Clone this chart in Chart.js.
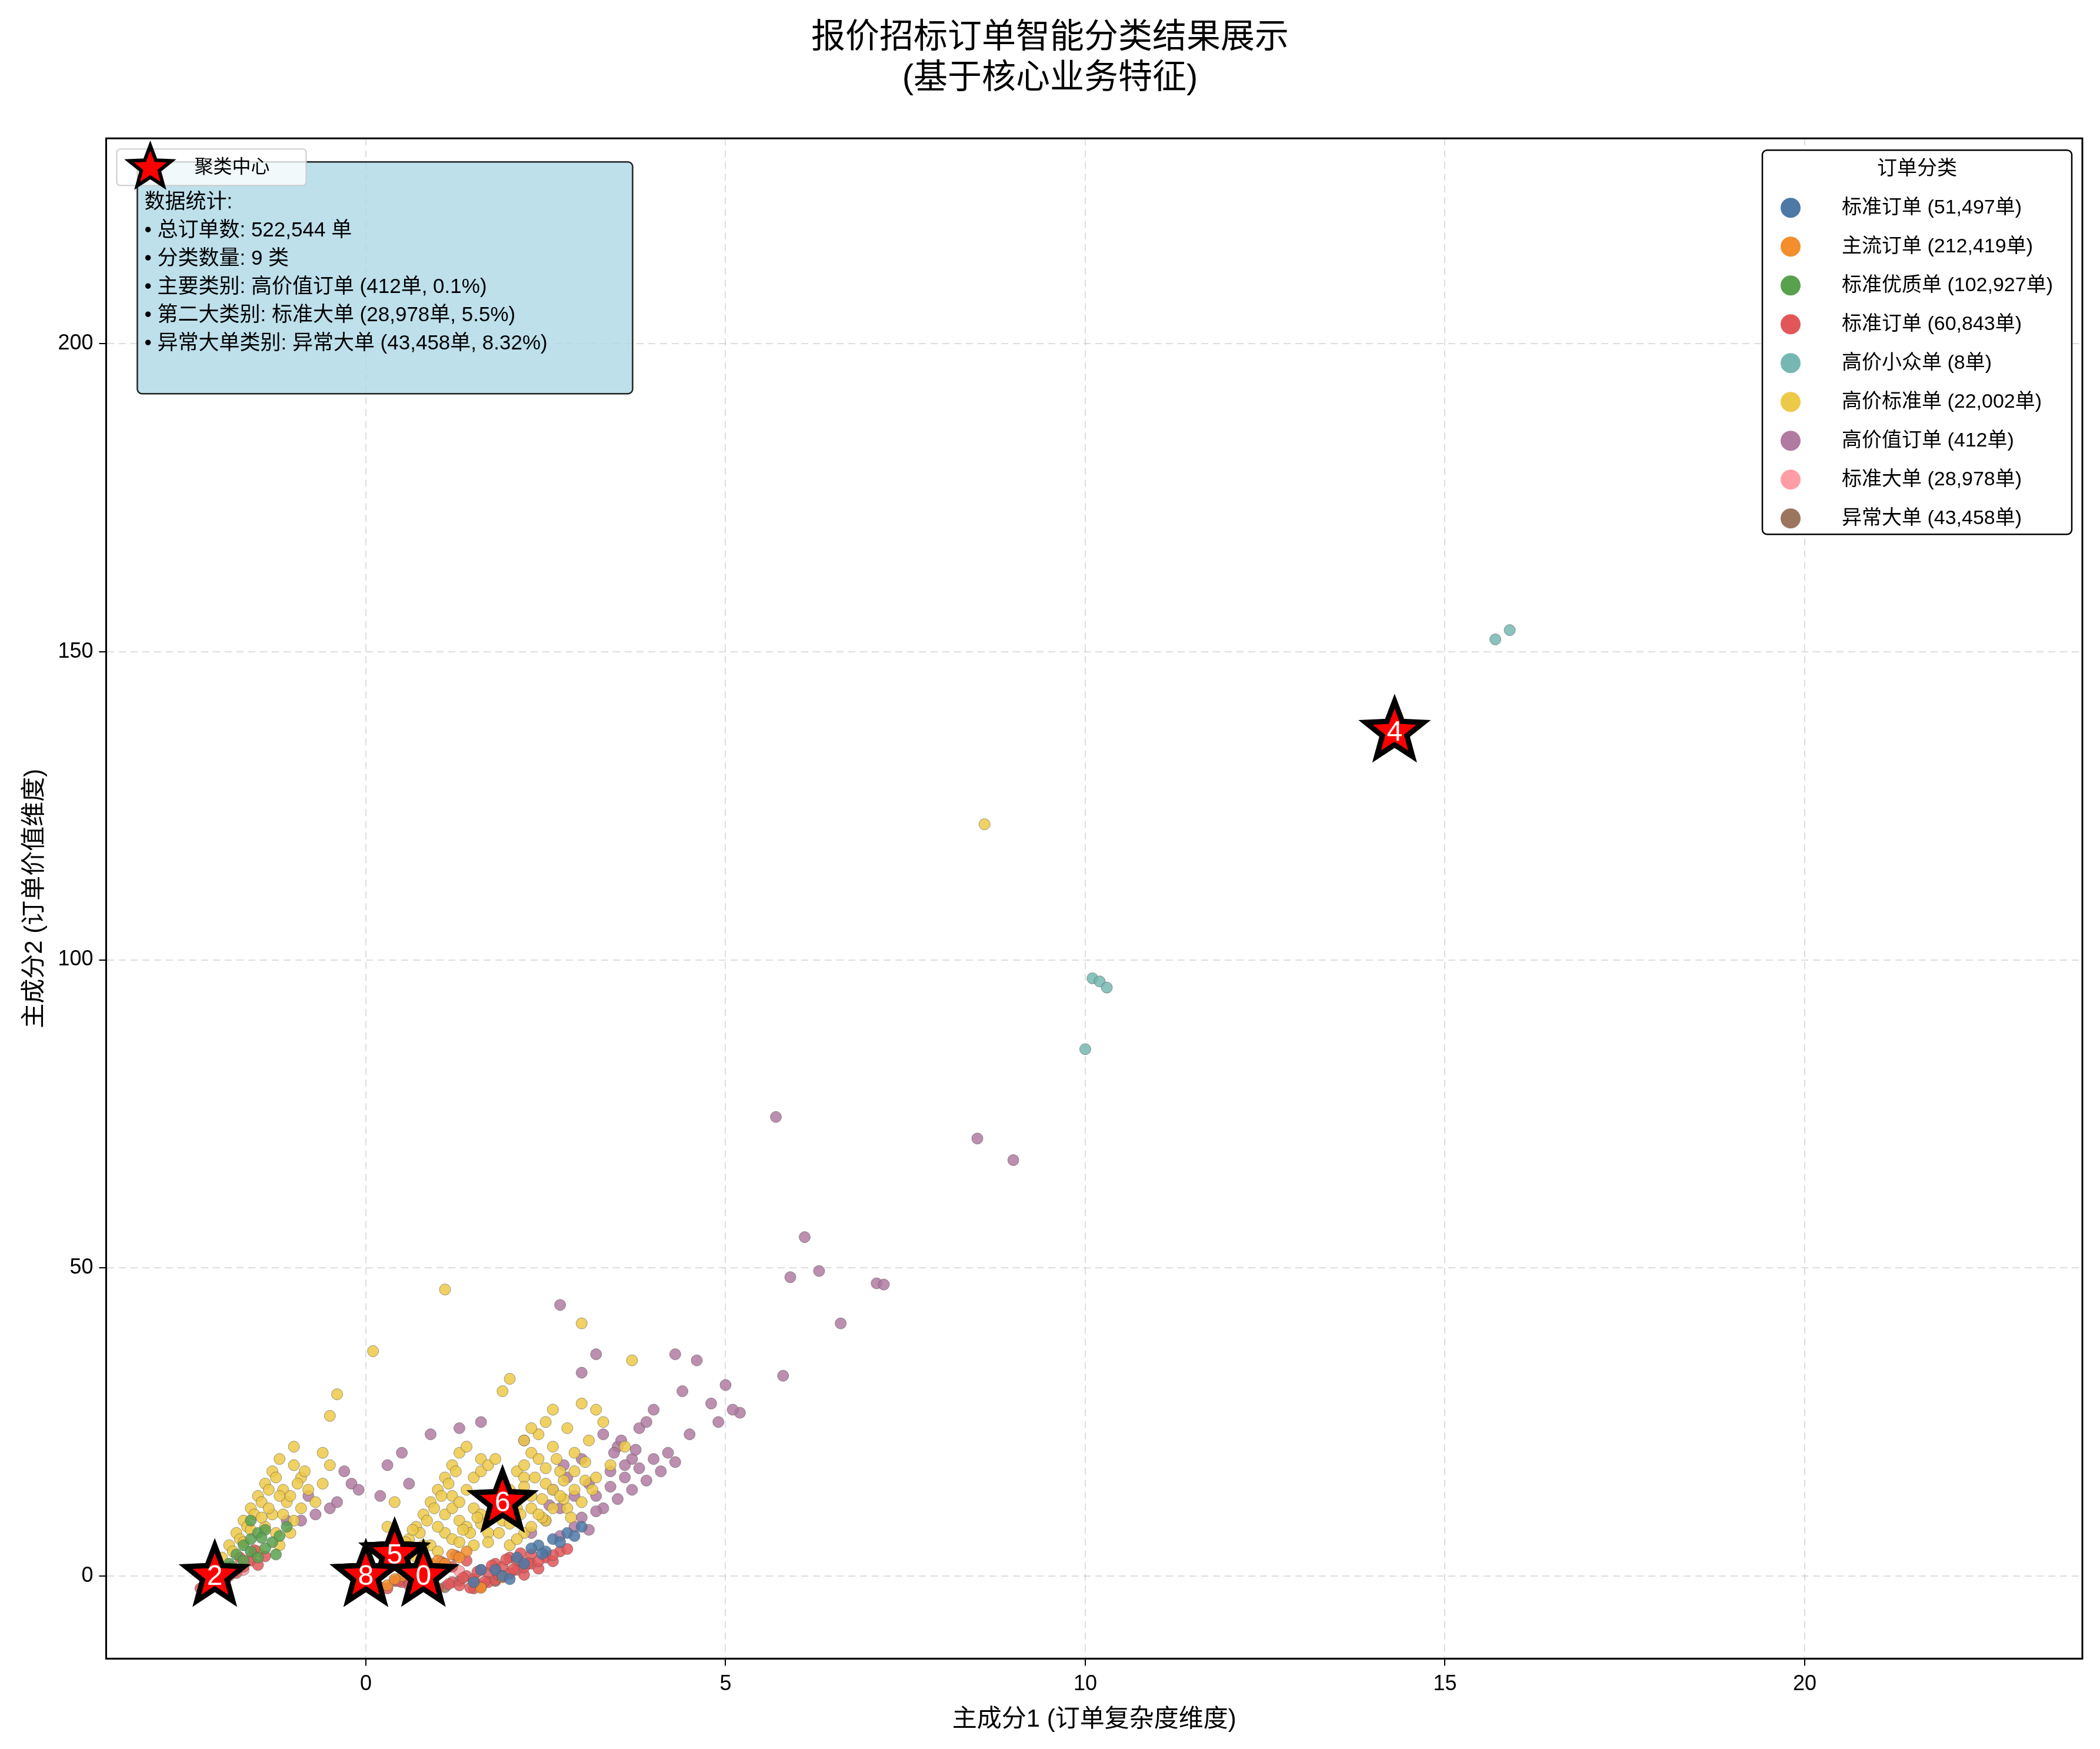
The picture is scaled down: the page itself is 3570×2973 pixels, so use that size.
<!DOCTYPE html>
<html><head><meta charset="utf-8">
<script src="https://cdn.jsdelivr.net/npm/chart.js@4.4.1/dist/chart.umd.min.js"></script>
<style>html,body{margin:0;padding:0;background:#fff}</style>
</head><body>
<canvas id="c" width="3570" height="2973"></canvas>
<script>
const clusterNames = ["标准订单 (51,497单)","主流订单 (212,419单)","标准优质单 (102,927单)","标准订单 (60,843单)","高价小众单 (8单)","高价标准单 (22,002单)","高价值订单 (412单)","标准大单 (28,978单)","异常大单 (43,458单)"];
const clusterColors = ["#4e79a7","#f28e2b","#59a14f","#e15759","#76b7b2","#edc948","#b07aa1","#ff9da7","#9c755f"];
const c0 = [[1.5,-1],[1.8,1],[2.1,3],[2.4,5],[2.6,6],[1.9,0],[2.2,2],[2.0,-0.5],[2.5,4],[2.8,7],[1.6,1],[2.3,4.5],[3.0,8],[2.7,5.5],[2.9,6.5],[2.45,3.6]];
const c1 = [[0.3,-1.5],[0.5,0],[0.7,1],[0.9,2],[0.4,-0.5],[0.6,0.5],[1.0,2.5],[1.2,3.5],[1.4,4],[0.8,1.5],[1.1,2],[1.3,3],[-2.2,-1.5],[-2.0,0],[1.6,-1.9],[1.9,-0.2]];
const c2 = [[-2.2,-1],[-2.0,0.5],[-1.9,2],[-1.8,3.5],[-1.7,5],[-1.6,6],[-1.5,7],[-1.4,7.5],[-1.6,4],[-1.5,3],[-1.3,5.5],[-1.2,6.5],[-1.1,8],[-1.85,1.5],[-1.7,2.5],[-1.4,4.5],[-1.25,3.5],[-1.45,6.2],[-1.6,9]];
const c3 = [[-2.3,-2],[-2.2,-1],[-2.1,0],[-2.0,1],[-1.9,1.5],[-2.1,-1.5],[-1.95,-0.5],[-1.8,0.5],[-1.7,1.5],[-1.6,2.5],[-1.5,1.8],[-1.4,3.2],[-1.75,3],[-1.55,4.2],
[0.3,-2],[0.5,-1],[0.7,0],[0.9,1],[1.1,2],[0.6,-1.5],[0.8,-0.5],[1.0,0.5],[1.2,1.5],[1.4,2.5],[1.0,-2],[1.2,-1],[1.4,0],[1.6,1],[1.8,2],[2.0,3],[1.3,-1.5],[1.5,-0.5],[1.7,0.5],[1.9,1.5],[2.1,2.5],[2.3,3.5],[1.5,-2],[1.7,-1],[1.9,0],[2.1,1],[2.3,2],[2.5,3],[2.7,4],[2.2,0.2],[2.4,1.2],[2.6,2.4],
[0.45,-0.8],[0.65,0.3],[0.85,1.3],[1.05,2.3],[1.25,3.3],[1.15,-1.3],[1.35,-0.3],[1.55,0.7],[1.75,1.7],[1.95,2.7],[2.15,3.7],[1.6,-1.6],[1.8,-0.6],[2.0,0.4],[2.2,1.4],[2.4,2.4],[2.6,3.4],[2.8,4.4],[1.45,-1.9],[1.65,-0.9],[1.85,0.1],[2.05,1.1],[2.25,2.1]];
const c4 = [[15.7,152],[15.9,153.5],[10.1,97],[10.2,96.5],[10.3,95.5],[10.0,85.5],[19.8,194.5],[14.3,137.5]];
const c5 = [[8.6,122],[1.1,46.5],[0.1,36.5],[3.0,41],[-0.4,29.5],[-2.0,3],[-1.9,5],[-1.8,7],[-1.7,9],[-1.6,11],[-1.5,13],[-1.4,15],[-1.3,17],[-1.2,19],[-1.0,21],[-0.9,16],[-1.1,12],[-1.3,10],[-1.0,9],[-0.8,14],[-0.6,15],[-0.5,18],[-1.4,8],[-1.2,5],[-0.9,11],[-0.7,12],[-0.5,26],[-0.6,20],[-1.5,4],
[-1.85,4],[-1.75,6],[-1.65,8],[-1.55,10],[-1.45,12],[-1.35,14],[-1.25,16],[-1.15,14],[-1.05,13],[-0.95,15],[-1.15,10],[-1.05,7],[-1.25,7],[-1.35,11],[-0.85,17],[-1.0,18],[-1.2,13],[-1.45,9.5],[-1.6,7.5],[-1.7,5.5],
[0.5,4],[0.6,6],[0.7,8],[0.8,10],[0.9,12],[1.0,14],[1.1,16],[1.2,18],[1.3,20],[1.4,21],[0.7,3],[0.9,5],[1.1,7],[1.3,9],[1.5,11],[1.7,13],[1.9,15],[2.1,17],[2.3,20],[2.4,23],[2.5,25],[1.0,4],[1.2,6],[1.4,8],[1.6,10],[1.8,12],[2.0,14],[2.2,16],[2.4,19],[2.6,21],[2.8,24],[1.5,5],[1.7,7],[1.9,9],[2.1,11],[2.3,13],[2.5,15],[2.7,17],[2.9,20],[3.1,22],[3.3,25],[2.0,32],[1.9,30],[2.6,27],[3.0,28],[3.7,35],[3.2,27],[2.0,5],[2.2,7],[2.5,9],[2.8,11],[3.2,16],[3.6,21],[0.3,8],[0.4,12],[1.2,13],[2.2,18],[1.6,19],[2.2,22],[2.3,24],
[0.6,4.5],[0.75,7],[0.85,9],[0.95,11],[1.05,13],[1.15,15],[1.25,17],[0.8,5],[1.0,8],[1.1,10],[1.2,11],[1.3,12],[1.4,14],[1.5,16],[1.6,17],[1.7,18],[1.8,19],[1.3,5.5],[1.45,7],[1.6,8.5],[1.75,10],[1.9,11.5],[2.05,13],[2.2,14.5],[2.35,16],[2.5,17.5],[2.65,19],[1.7,5.5],[1.85,7],[2.0,8.5],[2.15,10],[2.3,11],[2.45,12.5],[2.6,14],[2.75,15.5],[2.9,17],[3.05,18.5],[2.3,8],[2.45,9.5],[2.6,11],[2.75,12.5],[2.9,14],[3.05,15.5],[0.55,5.5],[0.65,7.5],[1.35,7.5],[1.55,9.5],[2.1,6],[2.4,10],[2.7,13],[3.0,12],[3.15,14],[3.4,18],[2.85,9.5]];
const c6 = [[5.7,74.5],[8.5,71],[9.0,67.5],[6.1,55],[6.3,49.5],[5.9,48.5],[7.1,47.5],[7.2,47.3],[6.6,41],[5.8,32.5],[5.2,26.5],[5.1,27],[5.0,31],[4.8,28],[4.3,36],[4.6,35],[3.2,36],[2.7,44],[4.0,27],[3.8,24],[4.5,23],[4.2,20],[3.7,19],[3.4,17],[3.1,15],[2.9,13],[2.7,11],[2.5,9],[2.3,7],[3.5,21],[3.9,25],[3.3,23],[3.6,18],[2.8,16],[3.0,19],[2.6,14],[2.2,22],[1.6,25],[0.9,23],[1.3,24],[0.5,20],[0.3,18],[-0.2,15],[-0.1,14],[-0.3,17],[0.6,15],[0.2,13],[-0.5,11],[-0.7,10],[-0.8,13],[-0.4,12],[-0.9,9],[-1.1,9],[4.4,30],[3.0,33],[4.9,25],
[3.2,13],[3.4,14.5],[3.6,16],[3.8,17.5],[4.0,19],[3.3,11],[3.5,12.5],[3.7,14],[3.9,15.5],[4.1,17],[3.0,9.5],[3.2,10.5],[2.9,8],[3.1,7.5],[2.7,6.5],[3.45,20],[3.55,22],[3.75,20.5],[4.3,18.5],[2.75,18],[2.55,11.5]];
const c7 = [[-2.1,-1],[-1.9,0],[-1.7,1],[0.6,-1],[0.9,0.3],[1.3,0.8],[1.8,1.2],[2.2,2.3],[2.5,3.3],[-1.6,3]];
const c8 = [[0.2,-1.8],[0.4,-0.8],[0.6,0.2],[1.1,-1.8],[1.3,-0.8],[1.6,-1.8],[1.8,-0.8],[-2.2,-1.8]];
const allClusters = [c0,c1,c2,c3,c4,c5,c6,c7,c8];
const centerX = [0.8, 0.4, -2.1, 0.0, 14.3, 0.4, 1.9, 0.4, 0.0];
const centerY = [0.0, 3.5, 0.0, 0.0, 137.0, 3.5, 12.0, 3.5, 0.0];
const centerLabels = ["0","1","2","3","4","5","6","7","8"];
const statLines = ["数据统计:","• 总订单数: 522,544 单","• 分类数量: 9 类","• 主要类别: 高价值订单 (412单, 0.1%)","• 第二大类别: 标准大单 (28,978单, 5.5%)","• 异常大单类别: 异常大单 (43,458单, 8.32%)"];
const xTicks = [0,5,10,15,20];
const yTicks = [0,50,100,150,200];

const FONT = "Arial, 'Liberation Sans', 'Noto Sans CJK SC', sans-serif";
const drawOrder = [0,1,2,3,7,8,4,5,6];
const datasets = drawOrder.map(i => ({
  label: clusterNames[i],
  data: allClusters[i].map(p => ({x:p[0], y:p[1]})),
  backgroundColor: clusterColors[i] + "d9",
  borderColor: "rgba(80,80,80,0.55)",
  borderWidth: 1,
  pointRadius: 9.5
}));

function starPath(ctx, cx, cy, R, r) {
  ctx.beginPath();
  for (let k = 0; k < 10; k++) {
    const rad = k % 2 ? r : R;
    const a = -Math.PI/2 + k*Math.PI/5;
    const px = cx + rad*Math.cos(a), py = cy + rad*Math.sin(a);
    k ? ctx.lineTo(px,py) : ctx.moveTo(px,py);
  }
  ctx.closePath();
}
const centerOrder = [1,7,5,3,8,0,2,4,6];

const overlay = {
  id: 'overlay',
  afterDatasetsDraw(chart) {
    const ctx = chart.ctx, xs = chart.scales.x, ys = chart.scales.y, ca = chart.chartArea;
    ctx.save();
    ctx.lineWidth = 3; ctx.strokeStyle = "#000";
    ctx.strokeRect(ca.left, ca.top, ca.right - ca.left, ca.bottom - ca.top);
    for (const i of centerOrder) {
      const px = xs.getPixelForValue(centerX[i]), py = ys.getPixelForValue(centerY[i]);
      starPath(ctx, px, py, 52, 22);
      ctx.fillStyle = "red"; ctx.fill();
      ctx.lineWidth = 9; ctx.strokeStyle = "#000"; ctx.lineJoin = "miter"; ctx.stroke();
      ctx.fillStyle = "#fff"; ctx.font = "48px " + FONT;
      ctx.textAlign = "center"; ctx.textBaseline = "middle";
      ctx.fillText(centerLabels[i], px, py + 2);
    }
    const bx = ca.left + 53, by = ca.top + 40, bw = 842, bh = 394;
    ctx.beginPath(); ctx.roundRect(bx, by, bw, bh, 8);
    ctx.fillStyle = "rgba(173,216,230,0.8)"; ctx.fill();
    ctx.lineWidth = 2.5; ctx.strokeStyle = "#222"; ctx.stroke();
    ctx.fillStyle = "#000"; ctx.font = "35px " + FONT; ctx.textAlign = "left"; ctx.textBaseline = "top";
    statLines.forEach((t, k) => ctx.fillText(t, bx + 12, by + 52 + k*48));
    ctx.beginPath(); ctx.roundRect(ca.left + 18, ca.top + 18, 322, 62, 6);
    ctx.fillStyle = "rgba(255,255,255,0.8)"; ctx.fill();
    ctx.lineWidth = 2; ctx.strokeStyle = "#ccc"; ctx.stroke();
    starPath(ctx, ca.left + 75, ca.top + 50, 38, 16);
    ctx.fillStyle = "red"; ctx.fill(); ctx.lineWidth = 6; ctx.strokeStyle = "#000"; ctx.stroke();
    ctx.fillStyle = "#000"; ctx.font = "32px " + FONT; ctx.textBaseline = "middle";
    ctx.fillText("聚类中心", ca.left + 150, ca.top + 50);
    const lw = 526, lh = 653, lx = ca.right - 18 - lw, ly = ca.top + 20;
    ctx.beginPath(); ctx.roundRect(lx, ly, lw, lh, 8);
    ctx.fillStyle = "#fff"; ctx.fill(); ctx.lineWidth = 2.5; ctx.strokeStyle = "#000"; ctx.stroke();
    ctx.fillStyle = "#000"; ctx.font = "34px " + FONT; ctx.textAlign = "center";
    ctx.fillText("订单分类", lx + lw/2, ly + 32);
    ctx.textAlign = "left";
    clusterNames.forEach((n, k) => {
      const yy = ly + 98 + k*66;
      ctx.beginPath(); ctx.arc(lx + 48, yy, 17, 0, Math.PI*2);
      ctx.fillStyle = clusterColors[k]; ctx.fill();
      ctx.fillStyle = "#000"; ctx.fillText(n, lx + 135, yy);
    });
    ctx.restore();
  }
};

new Chart(document.getElementById('c'), {
  type: 'scatter',
  data: { datasets },
  plugins: [overlay],
  options: {
    responsive: false, animation: false, devicePixelRatio: 1,
    layout: { padding: { left: 30, right: 30, top: 20, bottom: 20 } },
    plugins: {
      legend: { display: false }, tooltip: { enabled: false },
      title: { display: true, text: ["报价招标订单智能分类结果展示","(基于核心业务特征)"],
        font: { size: 58, family: FONT, weight: 'normal' }, color: "#000", padding: { top: 10, bottom: 66 }, lineHeight: 1.25 }
    },
    scales: {
      x: { type: 'linear', min: -3.61, max: 23.86,
        afterBuildTicks: s => { s.ticks = xTicks.map(v => ({value: v})); },
        ticks: { font: { size: 36, family: FONT }, color: "#000", padding: 10 },
        grid: { color: "rgba(0,0,0,0.13)", tickColor: "#000", tickLength: 12, lineWidth: 2 },
        border: { color: "#000", width: 3, dash: [12, 8] },
        title: { display: true, text: "主成分1 (订单复杂度维度)", font: { size: 42, family: FONT }, color: "#000" } },
      y: { type: 'linear', min: -13.4, max: 233.3,
        afterBuildTicks: s => { s.ticks = yTicks.map(v => ({value: v})); },
        ticks: { font: { size: 36, family: FONT }, color: "#000", padding: 10 },
        grid: { color: "rgba(0,0,0,0.13)", tickColor: "#000", tickLength: 12, lineWidth: 2 },
        border: { color: "#000", width: 3, dash: [12, 8] },
        title: { display: true, text: "主成分2 (订单价值维度)", font: { size: 42, family: FONT }, color: "#000" } }
    }
  }
});
</script>
</body></html>
